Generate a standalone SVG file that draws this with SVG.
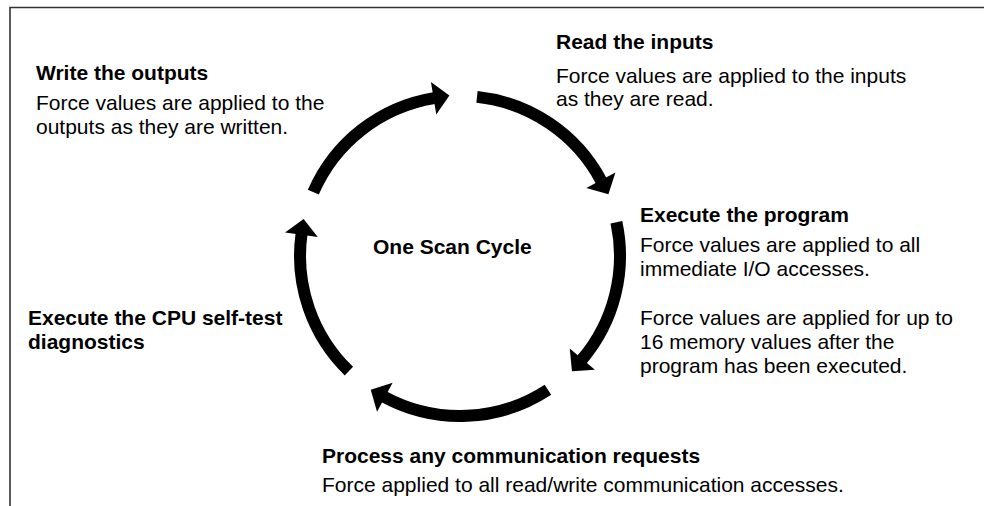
<svg xmlns="http://www.w3.org/2000/svg" width="984" height="506" viewBox="0 0 984 506">
<style>
  text { font-family: "Liberation Sans", Arial, sans-serif; font-size: 21px; fill: #000; }
  .h { font-weight: bold; }
  .arc { fill: none; stroke: #000; stroke-width: 12; marker-end: url(#head); }
  .frame { fill: none; stroke: #333; stroke-width: 1.6; }
</style>
<defs>
  <marker id="head" markerUnits="userSpaceOnUse" markerWidth="40" markerHeight="40" refX="0.5" refY="0" orient="auto" overflow="visible" viewBox="-20 -20 40 40">
    <path d="M0,-16.5 L16,0 L0,16.5 Z" fill="#000"/>
  </marker>
</defs>
<rect width="984" height="506" fill="#fff"/>
<g id="frame">
  <path class="frame" d="M10,506 L10,7.5 L984,7.5"/>
</g>
<g id="connectors">
  <path class="arc" d="M313.3,192.2 A160,160 0 0 1 434.1,98.1"/>
  <path class="arc" d="M477.0,96.9 A160,160 0 0 1 601.1,180.6"/>
  <path class="arc" d="M616.4,222.2 A160,160 0 0 1 582.0,359.5"/>
  <path class="arc" d="M547.9,389.7 A160,160 0 0 1 384.4,397.0"/>
  <path class="arc" d="M348.9,371.1 A160,160 0 0 1 301.5,234.3"/>
</g>
<g id="center">
  <text class="h" x="373" y="254">One Scan Cycle</text>
</g>
<g id="read-inputs">
  <text class="h" x="556" y="49">Read the inputs</text>
  <text x="556" y="83">Force values are applied to the inputs</text>
  <text x="556" y="106">as they are read.</text>
</g>
<g id="write-outputs">
  <text class="h" x="36" y="80">Write the outputs</text>
  <text x="36" y="110">Force values are applied to the</text>
  <text x="36" y="134">outputs as they are written.</text>
</g>
<g id="execute-program">
  <text class="h" x="640" y="222">Execute the program</text>
  <text x="640" y="252">Force values are applied to all</text>
  <text x="640" y="276">immediate I/O accesses.</text>
  <text x="640" y="325">Force values are applied for up to</text>
  <text x="640" y="349">16 memory values after the</text>
  <text x="640" y="373">program has been executed.</text>
</g>
<g id="self-test">
  <text class="h" x="28" y="325">Execute the CPU self-test</text>
  <text class="h" x="28" y="349">diagnostics</text>
</g>
<g id="communication">
  <text class="h" x="322" y="463">Process any communication requests</text>
  <text x="322" y="492">Force applied to all read/write communication accesses.</text>
</g>
</svg>
